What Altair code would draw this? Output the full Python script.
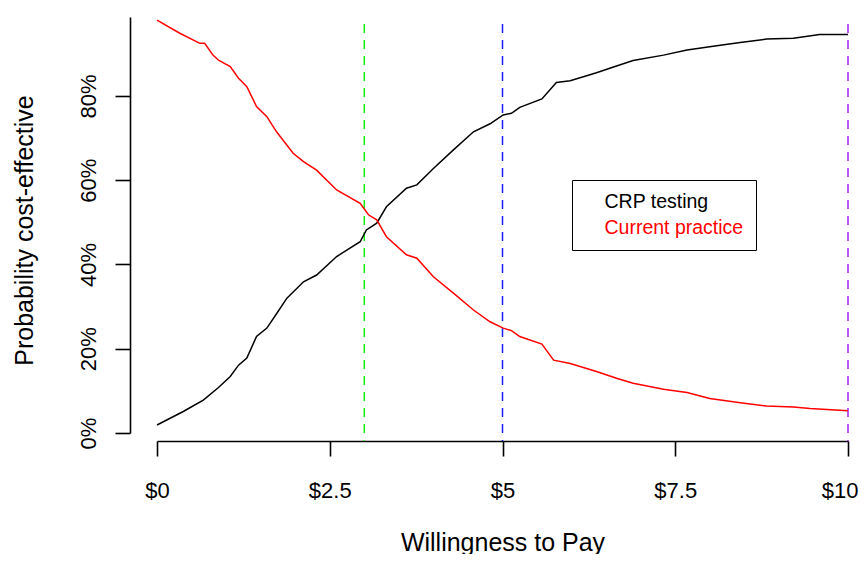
import altair as alt
import pandas as pd

# ---- data ----
CRP_WTP = [0.00, 0.38, 0.67, 0.89, 1.06, 1.18, 1.30, 1.44, 1.59, 1.73, 1.88, 2.12, 2.31,
           2.60, 2.94, 3.03, 3.18, 3.32, 3.61, 3.76, 4.00, 4.29, 4.58, 4.82, 5.01, 5.13,
           5.25, 5.57, 5.78, 5.98, 6.36, 6.65, 6.89, 7.33, 7.67, 8.10, 8.44, 8.82, 9.21,
           9.59, 10.00]
CRP_PROB = [0.019, 0.051, 0.078, 0.108, 0.134, 0.161, 0.178, 0.229, 0.249, 0.283, 0.320,
            0.359, 0.375, 0.419, 0.454, 0.482, 0.498, 0.537, 0.581, 0.589, 0.628, 0.672,
            0.715, 0.734, 0.755, 0.759, 0.773, 0.793, 0.832, 0.836, 0.855, 0.871, 0.884,
            0.897, 0.909, 0.919, 0.927, 0.935, 0.937, 0.946, 0.946]

CP_WTP = [0.00, 0.33, 0.62, 0.69, 0.81, 0.89, 1.06, 1.18, 1.30, 1.44, 1.59, 1.73, 1.97,
          2.12, 2.31, 2.60, 2.94, 3.06, 3.18, 3.32, 3.61, 3.76, 4.00, 4.29, 4.58, 4.82,
          5.01, 5.13, 5.25, 5.57, 5.74, 5.98, 6.36, 6.65, 6.89, 7.33, 7.67, 8.00, 8.44,
          8.82, 9.21, 9.45, 10.00]
CP_PROB = [0.980, 0.949, 0.925, 0.925, 0.897, 0.885, 0.870, 0.842, 0.822, 0.775, 0.751,
           0.715, 0.664, 0.644, 0.624, 0.577, 0.545, 0.518, 0.506, 0.466, 0.423, 0.415,
           0.371, 0.332, 0.292, 0.264, 0.249, 0.243, 0.229, 0.211, 0.173, 0.165, 0.146,
           0.130, 0.118, 0.104, 0.096, 0.082, 0.072, 0.064, 0.062, 0.058, 0.053]

SERIES = ["CRP testing", "Current practice"]
SERIES_COLORS = ["black", "red"]

X_TICKS = [0, 2.5, 5, 7.5, 10]
Y_TICKS = [0, 0.2, 0.4, 0.6, 0.8]

VLINE_X = [3, 5, 10]
VLINE_COLORS = ["#11ee11", "#1a1aff", "#a020f0"]

# ---- tables ----
rows = []
for w, p in zip(CRP_WTP, CRP_PROB):
    rows.append({"wtp": w, "prob": p, "series": SERIES[0]})
for w, p in zip(CP_WTP, CP_PROB):
    rows.append({"wtp": w, "prob": p, "series": SERIES[1]})
df = pd.DataFrame(rows)
vl = pd.DataFrame({"wtp": VLINE_X, "col": VLINE_COLORS})

FONT = "Liberation Sans"

x_scale = alt.Scale(domain=[0, 10], range=[27, 718], nice=False, zero=False)
y_scale = alt.Scale(domain=[0, 0.9875], range=[416, 0], nice=False, zero=False)

x_axis = alt.Axis(
    values=X_TICKS, labelExpr="'$' + datum.value", title="Willingness to Pay",
    grid=False, labelFlush=False, labelOverlap=False, tickSize=15, labelPadding=41,
    labelBaseline="alphabetic",
    labelAlign=alt.condition("datum.value == 10", alt.value("right"), alt.value("center")),
    labelOffset=alt.condition("datum.value == 10", alt.value(10), alt.value(0)),
    labelFontSize=22,
    titleFontSize=25, titleY=109, titleX=372.5, titleBaseline="alphabetic",
    titleAlign="center", titleFontWeight="normal",
)
y_axis = alt.Axis(
    values=Y_TICKS, format=".0%", title="Probability cost-effective",
    grid=False, labelFlush=False, labelOverlap=False, tickSize=15, labelPadding=20,
    labelAngle=270, labelAlign="center", labelBaseline="alphabetic", labelFontSize=22,
    titleFontSize=25, titleAngle=270, titleX=-98, titleY=213,
    titleBaseline="alphabetic", titleAlign="center", titleFontWeight="normal",
)

lines = alt.Chart(df).mark_line(strokeWidth=1.5).encode(
    x=alt.X("wtp:Q", scale=x_scale, axis=x_axis),
    y=alt.Y("prob:Q", scale=y_scale, axis=y_axis),
    color=alt.Color(
        "series:N",
        scale=alt.Scale(domain=SERIES, range=SERIES_COLORS),
        title=None,
        legend=alt.Legend(
            orient="none", legendX=442, legendY=163, strokeColor="black",
            fillColor="white", padding=12, symbolOpacity=0, symbolType="circle",
            symbolSize=100, labelOffset=1, labelFontSize=19.5, labelFont=FONT,
            rowPadding=5.5,
            labelColor=alt.ExprRef("datum.label == 'Current practice' ? 'red' : 'black'"),
        ),
    ),
)

rules = alt.Chart(vl).mark_rule(strokeDash=[9, 7], strokeWidth=1.5).encode(
    x=alt.X("wtp:Q", scale=x_scale, axis=x_axis),
    y=alt.value(7),
    y2=alt.value(424),
    stroke=alt.Stroke("col:N", scale=None, legend=None),
)

chart = alt.layer(rules, lines).properties(
    width=729,
    height=424,
    autosize=alt.AutoSizeParams(type="none"),
    padding={"left": 122, "top": 9, "right": 0, "bottom": 113},
    background="white",
).configure_view(
    strokeWidth=0
).configure_axis(
    domainColor="black", domainWidth=1.6, tickColor="black", tickWidth=1.6,
    labelColor="black", titleColor="black", labelFont=FONT, titleFont=FONT,
)

chart.save("out.html", embed_options={"renderer": "svg", "actions": False})
